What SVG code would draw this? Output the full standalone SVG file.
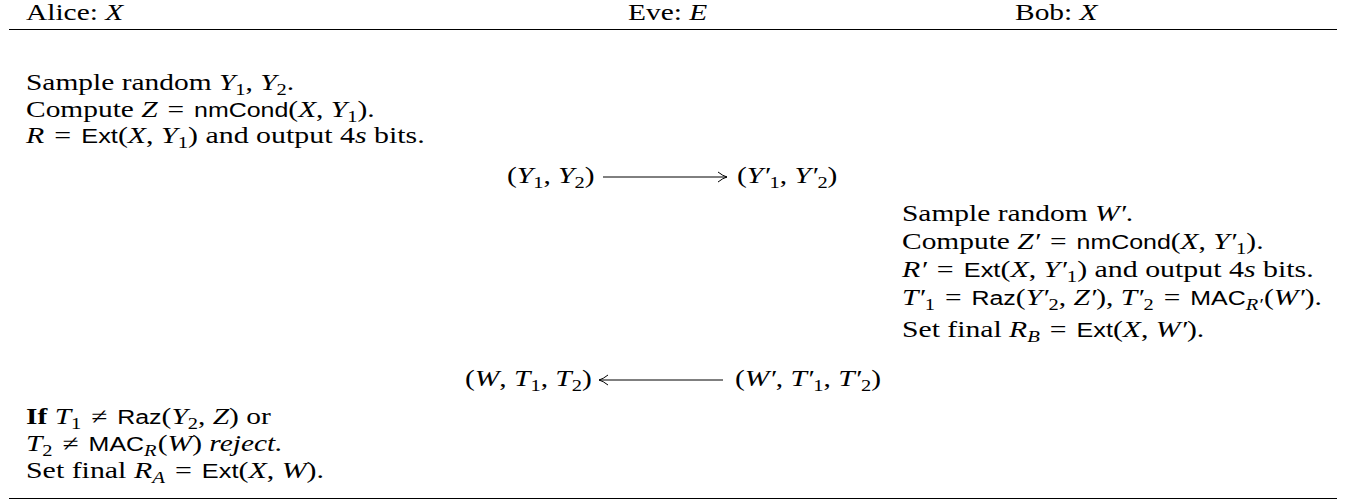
<svg xmlns="http://www.w3.org/2000/svg" width="1354" height="501" viewBox="0 0 1354 501">
<style>
text { font-family: "Liberation Serif", serif; font-size: 23px; fill: #000; }
.i { font-style: italic; }
.sf { font-family: "Liberation Sans", sans-serif; font-size: 19.5px; font-style: normal; }
.sb { font-size: 16px; }
.bf { font-weight: bold; }
.rule { stroke: #000; stroke-width: 1.2; }
.conn { stroke: #000; stroke-width: 1; fill: none; }
</style>
<defs>
<marker id="ah" viewBox="0 0 10 12" refX="10" refY="6" markerWidth="10" markerHeight="12" markerUnits="userSpaceOnUse" orient="auto">
<path d="M1,1 Q6,5 10,6 Q6,7 1,11" fill="none" stroke="#000" stroke-width="1"/>
</marker>
</defs>
<rect width="1354" height="501" fill="#fff"/>

<g id="rules">
<line class="rule" x1="9" y1="29.5" x2="1337" y2="29.5"/>
<line class="rule" x1="9" y1="498.5" x2="1337" y2="498.5"/>
</g>

<g id="header-alice"><text transform="translate(26 20) scale(1.28 1)">Alice: <tspan class="i">X</tspan></text></g>
<g id="header-eve"><text transform="translate(628 20) scale(1.28 1)">Eve: <tspan class="i">E</tspan></text></g>
<g id="header-bob"><text transform="translate(1015 20) scale(1.28 1)">Bob: <tspan class="i">X</tspan></text></g>

<g id="alice-setup">
<text transform="translate(26 90) scale(1.28 1)">Sample random <tspan class="i">Y</tspan><tspan class="sb" dy="5">1</tspan><tspan dy="-5">, </tspan><tspan class="i">Y</tspan><tspan class="sb" dy="5">2</tspan><tspan dy="-5">.</tspan></text>
<text transform="translate(26 116.5) scale(1.28 1)">Compute <tspan class="i">Z</tspan> <tspan dx="2">= </tspan><tspan class="sf" dx="2">nmCond</tspan>(<tspan class="i">X</tspan>, <tspan class="i">Y</tspan><tspan class="sb" dy="5">1</tspan><tspan dy="-5">).</tspan></text>
<text transform="translate(26 143) scale(1.3 1)"><tspan class="i">R</tspan> <tspan dx="2">= </tspan><tspan class="sf" dx="2">Ext</tspan>(<tspan class="i">X</tspan>, <tspan class="i">Y</tspan><tspan class="sb" dy="5">1</tspan><tspan dy="-5">) and output 4</tspan><tspan class="i">s</tspan> bits.</text>
</g>

<g id="msg1-sent"><text transform="translate(507 183) scale(1.28 1)">(<tspan class="i">Y</tspan><tspan class="sb" dy="5">1</tspan><tspan dy="-5">, </tspan><tspan class="i">Y</tspan><tspan class="sb" dy="5">2</tspan><tspan dy="-5">)</tspan></text></g>
<g id="msg1-recv"><text transform="translate(737 183) scale(1.28 1)">(<tspan class="i">Y′</tspan><tspan class="sb" dy="5">1</tspan><tspan dy="-5">, </tspan><tspan class="i">Y′</tspan><tspan class="sb" dy="5">2</tspan><tspan dy="-5">)</tspan></text></g>

<g id="bob-steps">
<text transform="translate(902 221) scale(1.28 1)">Sample random <tspan class="i">W′</tspan>.</text>
<text transform="translate(902 248.5) scale(1.28 1)">Compute <tspan class="i">Z′</tspan> <tspan dx="2">= </tspan><tspan class="sf" dx="2">nmCond</tspan>(<tspan class="i">X</tspan>, <tspan class="i">Y′</tspan><tspan class="sb" dy="5">1</tspan><tspan dy="-5">).</tspan></text>
<text transform="translate(902 276.5) scale(1.3 1)"><tspan class="i">R′</tspan> <tspan dx="2">= </tspan><tspan class="sf" dx="2">Ext</tspan>(<tspan class="i">X</tspan>, <tspan class="i">Y′</tspan><tspan class="sb" dy="5">1</tspan><tspan dy="-5">) and output 4</tspan><tspan class="i">s</tspan> bits.</text>
<text transform="translate(902 305) scale(1.28 1)"><tspan class="i">T′</tspan><tspan class="sb" dy="5">1</tspan><tspan dy="-5"> </tspan><tspan dx="2">= </tspan><tspan class="sf" dx="2">Raz</tspan>(<tspan class="i">Y′</tspan><tspan class="sb" dy="5">2</tspan><tspan dy="-5">, </tspan><tspan class="i">Z′</tspan>), <tspan class="i">T′</tspan><tspan class="sb" dy="5">2</tspan><tspan dy="-5"> </tspan><tspan dx="2">= </tspan><tspan class="sf" dx="2">MAC</tspan><tspan class="sb i" dy="5">R′</tspan><tspan dy="-5" dx="1">(</tspan><tspan class="i">W′</tspan>).</text>
<text transform="translate(902 337) scale(1.29 1)">Set final <tspan class="i">R</tspan><tspan class="sb i" dy="5">B</tspan><tspan dy="-5"> </tspan><tspan dx="2">= </tspan><tspan class="sf" dx="2">Ext</tspan>(<tspan class="i">X</tspan>, <tspan class="i">W′</tspan>).</text>
</g>

<g id="msg2-recv"><text transform="translate(465 386) scale(1.28 1)">(<tspan class="i">W</tspan>, <tspan class="i">T</tspan><tspan class="sb" dy="5">1</tspan><tspan dy="-5">, </tspan><tspan class="i">T</tspan><tspan class="sb" dy="5">2</tspan><tspan dy="-5">)</tspan></text></g>
<g id="msg2-sent"><text transform="translate(735 386) scale(1.28 1)">(<tspan class="i">W′</tspan>, <tspan class="i">T′</tspan><tspan class="sb" dy="5">1</tspan><tspan dy="-5">, </tspan><tspan class="i">T′</tspan><tspan class="sb" dy="5">2</tspan><tspan dy="-5">)</tspan></text></g>

<g id="alice-verify">
<text transform="translate(26 424) scale(1.28 1)"><tspan class="bf">If</tspan> <tspan class="i">T</tspan><tspan class="sb" dy="5">1</tspan><tspan dy="-5"> </tspan><tspan dx="2">≠ </tspan><tspan class="sf" dx="2">Raz</tspan>(<tspan class="i">Y</tspan><tspan class="sb" dy="5">2</tspan><tspan dy="-5">, </tspan><tspan class="i">Z</tspan>) or</text>
<text transform="translate(26 451) scale(1.28 1)"><tspan class="i">T</tspan><tspan class="sb" dy="5">2</tspan><tspan dy="-5"> </tspan><tspan dx="2">≠ </tspan><tspan class="sf" dx="2">MAC</tspan><tspan class="sb i" dy="5">R</tspan><tspan dy="-5" dx="1">(</tspan><tspan class="i">W</tspan>) <tspan class="i">reject.</tspan></text>
<text transform="translate(26 478) scale(1.3 1)">Set final <tspan class="i">R</tspan><tspan class="sb i" dy="5">A</tspan><tspan dy="-5"> </tspan><tspan dx="2">= </tspan><tspan class="sf" dx="2">Ext</tspan>(<tspan class="i">X</tspan>, <tspan class="i">W</tspan>).</text>
</g>

<g id="connectors">
<line class="conn" x1="603" y1="177" x2="727" y2="177" marker-end="url(#ah)"/>
<line class="conn" x1="723" y1="380" x2="599" y2="380" marker-end="url(#ah)"/>
</g>
</svg>
